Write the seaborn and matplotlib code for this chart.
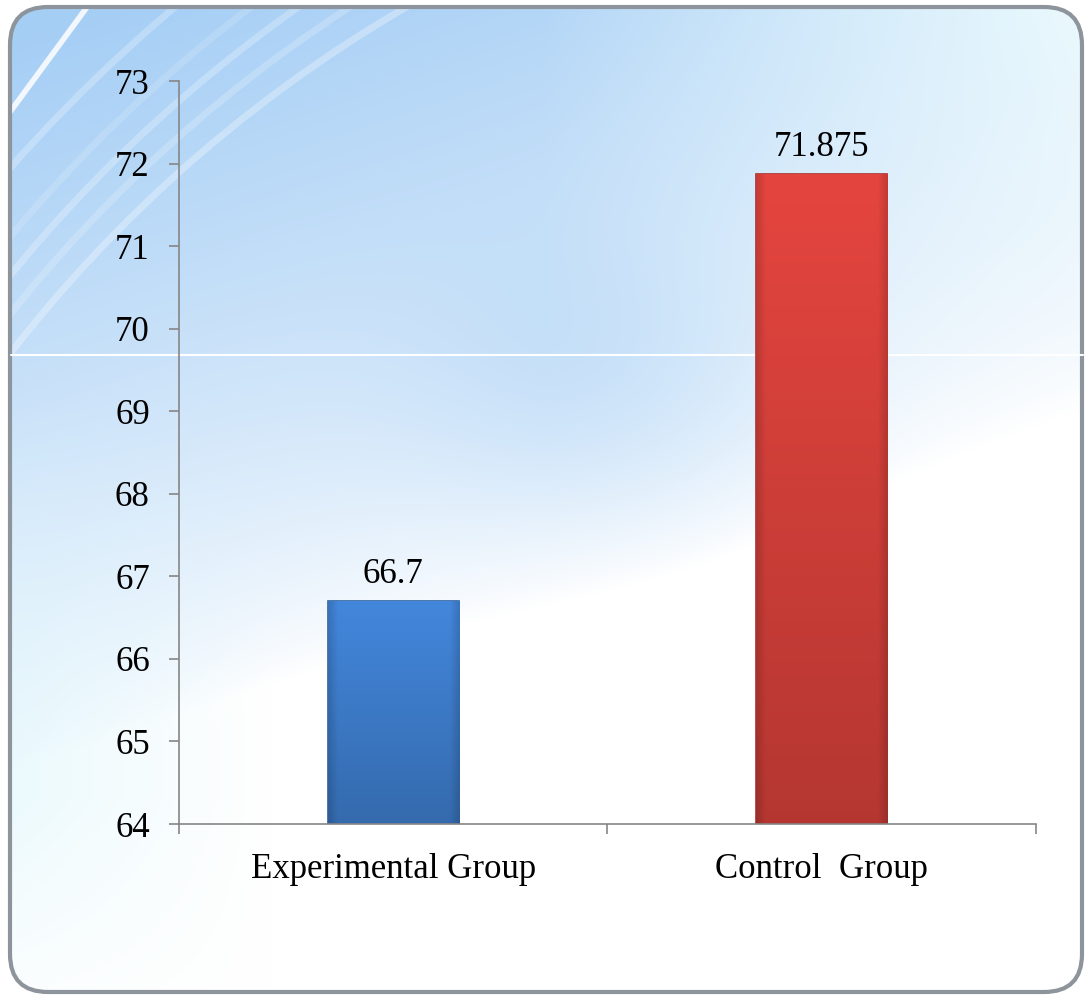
import matplotlib
matplotlib.use("Agg")
import matplotlib.pyplot as plt
import numpy as np
import seaborn as sns
from matplotlib.lines import Line2D
from matplotlib.patches import Arc, FancyBboxPatch

groups = ["Experimental Group", "Control  Group"]
scores = [66.7, 71.875]
score_labels = ["66.7", "71.875"]
bar_colors = ["#3f7fcf", "#d8413b"]
y_ticks = list(range(64, 74))

sns.set_theme(style="white")
plt.rcParams["font.family"] = ["Liberation Serif", "DejaVu Serif"]

fig = plt.figure(figsize=(10.88, 9.98), dpi=100)
fig.patch.set_facecolor("white")

# slide-style background panel with a soft blue wash
bg = fig.add_axes([0, 0, 1, 1], zorder=0)
bg.set_xlim(0, 1088)
bg.set_ylim(998, 0)
bg.axis("off")
frame = FancyBboxPatch((10, 7), 1072, 985, boxstyle="round,pad=0,rounding_size=38",
                       fc="none", ec="#8d949b", lw=3, zorder=6)
bg.add_patch(frame)

gy, gx = np.mgrid[0:1:500j, 0:1:545j]
blob = 0.25 * np.exp(-((gx - 0.55) ** 2 / 0.03 + (gy - 0.38) ** 2 / 0.02))
w = np.clip(1.05 - 0.5 * gx - 1.35 * gy + blob, 0, 1) ** 0.75
blue = np.array([165, 206, 245]) / 255
cyan = np.array([222, 246, 252]) / 255
tint = np.clip((gx - 0.5) * 2, 0, 1)[..., None] * (1 - np.clip(gy * 1.6, 0, 1))[..., None]
left_glow = np.clip(1 - gx * 4, 0, 1)[..., None] * np.clip((gy - 0.4) * 3, 0, 1)[..., None] * (1 - np.clip((gy - 0.8) * 4, 0, 1))[..., None]
top_col = blue * (1 - tint) + cyan * tint
wash = 1 - w[..., None] * (1 - top_col)
wash = wash * (1 - 0.6 * left_glow) + cyan * 0.6 * left_glow
im = bg.imshow(np.clip(wash, 0, 1), extent=(0, 1088, 998, 0), aspect="auto", zorder=1)
im.set_clip_path(frame)

for r, cx, a in [(1380, 1100, 0.3), (1420, 1120, 0.2), (1460, 1140, 0.25), (1500, 1160, 0.15), (1560, 1180, 0.25)]:
    arc = Arc((cx, 1200), 2 * r, 2 * r, theta1=212, theta2=262,
              color="white", lw=5, alpha=a, zorder=2)
    bg.add_patch(arc)
    arc.set_clip_path(frame)
streak = Line2D([10, 90], [112, 3], color="white", lw=4, alpha=0.85, zorder=2)
bg.add_line(streak)
streak.set_clip_path(frame)
fig.add_artist(Line2D([0.01, 0.995], [1 - 355 / 998] * 2, color="white", lw=1.5, zorder=1))

# chart
ax = fig.add_axes([0.1645, 0.1743, 0.7877, 0.7445], zorder=3)
ax.set_facecolor("none")
sns.barplot(x=groups, y=scores, hue=groups, palette=bar_colors, legend=False,
            width=0.306, saturation=1, ax=ax)

for patch, color in zip(ax.patches, bar_colors):
    x0 = patch.get_x()
    x1 = x0 + patch.get_width()
    top = patch.get_height()
    base = np.array(matplotlib.colors.to_rgb(color))
    sy, sx = np.mgrid[0:1:60j, 0:1:60j]
    shade = 1.06 - 0.22 * sy
    edge = np.minimum(np.minimum(sx, 1 - sx) / 0.07, 1)
    shade = shade * (0.86 + 0.14 * edge)
    tex = np.clip(base[None, None, :] * shade[..., None], 0, 1)
    bar_im = ax.imshow(tex, extent=(x0, x1, 64, top), aspect="auto", zorder=patch.get_zorder() + 0.1)
    bar_im.set_clip_path(patch)
    patch.set_edgecolor(base * 0.75)
    patch.set_linewidth(1.2)

ax.set_ylim(64, 73)
ax.set_xlim(-0.5, 1.5)

for patch, label in zip(ax.patches, score_labels):
    ax.annotate(label, (patch.get_x() + patch.get_width() / 2, patch.get_height()),
                xytext=(0, 13), textcoords="offset points", ha="center", va="baseline",
                fontsize=25, color="black")

ax.set_yticks(y_ticks)
ax.set_xticks([0, 1])
ax.set_xticklabels(groups)
ax.set_xticks([-0.5, 0.5, 1.5], minor=True)
ax.tick_params(axis="y", left=True, direction="out", length=7, width=1.2, color="#868686",
               pad=14, labelsize=25, labelcolor="black")
ax.tick_params(axis="x", which="major", bottom=True, length=0, pad=21, labelsize=25,
               labelcolor="black")
ax.tick_params(axis="x", which="minor", bottom=True, direction="out", length=7, width=1.2,
               color="#868686")
ax.set_xlabel("")
ax.set_ylabel("")
ax.grid(False)
for side in ["top", "right"]:
    ax.spines[side].set_visible(False)
for side in ["left", "bottom"]:
    ax.spines[side].set_color("#868686")
    ax.spines[side].set_linewidth(1.2)

fig.savefig("out.png", dpi=100)
